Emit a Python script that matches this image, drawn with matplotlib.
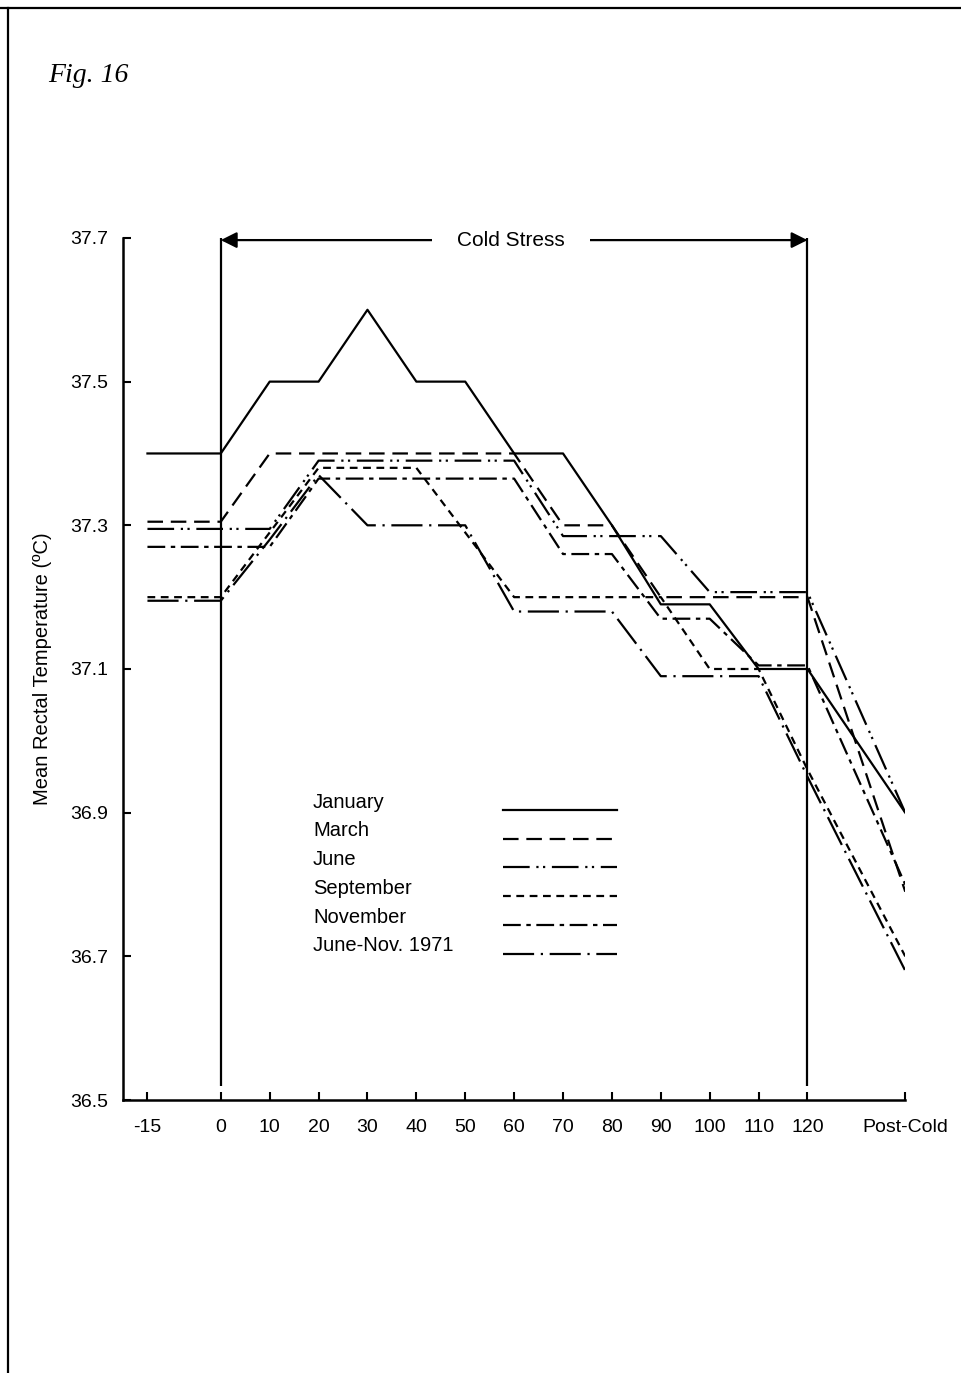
import matplotlib
matplotlib.use("Agg")
from matplotlib import pyplot as plt
from matplotlib.lines import Line2D

plt.rcParams['font.family'] = ['Liberation Sans', 'DejaVu Sans']

# minutes of exposure; 140 stands for the post-cold reading
minutes = [-15, 0, 10, 20, 30, 40, 50, 60, 70, 80, 90, 100, 110, 120, 140]
minute_labels = ['-15', '0', '10', '20', '30', '40', '50', '60', '70', '80',
                 '90', '100', '110', '120', 'Post-Cold']

january = [37.40, 37.40, 37.50, 37.50, 37.60, 37.50, 37.50, 37.40, 37.40,
           37.30, 37.19, 37.19, 37.10, 37.10, 36.90]
march = [37.305, 37.305, 37.40, 37.40, 37.40, 37.40, 37.40, 37.40, 37.30,
         37.30, 37.20, 37.20, 37.20, 37.20, 36.79]
june = [37.295, 37.295, 37.295, 37.39, 37.39, 37.39, 37.39, 37.39, 37.285,
        37.285, 37.285, 37.207, 37.207, 37.207, 36.90]
september = [37.20, 37.20, 37.29, 37.38, 37.38, 37.38, 37.29, 37.20, 37.20,
             37.20, 37.20, 37.10, 37.10, 36.96, 36.70]
november = [37.27, 37.27, 37.27, 37.365, 37.365, 37.365, 37.365, 37.365,
            37.26, 37.26, 37.17, 37.17, 37.105, 37.105, 36.80]
june_nov_1971 = [37.195, 37.195, 37.28, 37.37, 37.30, 37.30, 37.30, 37.18,
                 37.18, 37.18, 37.09, 37.09, 37.09, 36.95, 36.68]

series = [january, march, june, september, november, june_nov_1971]
names = ['January', 'March', 'June', 'September', 'November', 'June-Nov. 1971']
styles = ['-',
          (0, (7, 3.5)),
          (0, (12, 3, 1, 2, 1, 3)),
          (0, (3.5, 2.5)),
          (0, (8, 2.5, 2, 2.5)),
          (0, (14, 3, 1, 3))]

cold_start, cold_end = 0, 120
y_ticks = [36.5, 36.7, 36.9, 37.1, 37.3, 37.5, 37.7]

fig = plt.figure(figsize=(9.61, 13.73), dpi=100)
ax = fig.add_axes([0.128, 0.1988, 0.814, 0.6279])

for values, style in zip(series, styles):
    ax.plot(minutes, values, color='black', lw=1.6, linestyle=style)

# cold stress period
ax.vlines([cold_start, cold_end], 36.52, 37.7, color='black', lw=1.6)
ax.annotate('', xy=(cold_start, 37.697), xytext=(cold_end, 37.697),
            arrowprops=dict(arrowstyle='<|-|>', color='black', lw=1.6,
                            mutation_scale=24, shrinkA=0, shrinkB=0),
            annotation_clip=False)
ax.text((cold_start + cold_end) / 2 - 0.7, 37.697, 'Cold Stress', fontsize=15,
        ha='center', va='center',
        bbox=dict(fc='white', ec='none', pad=18))

# legend drawn by hand: names on the left, line samples on the right
for i, (name, style) in enumerate(zip(names, styles)):
    y = 0.3457 - i * 0.0334
    ax.text(0.243, y, name, transform=ax.transAxes, fontsize=14.5, va='center')
    ax.plot([0.486, 0.632], [y - 0.009, y - 0.009], transform=ax.transAxes,
            color='black', lw=1.6, linestyle=style)

ax.set_xlim(-20, 140)
ax.set_ylim(36.5, 37.7)
ax.set_xticks(minutes)
ax.set_xticklabels(minute_labels)
ax.set_yticks(y_ticks)
ax.set_yticklabels([f'{v:.1f}' for v in y_ticks])
ax.tick_params(direction='in', length=6, width=1.5, labelsize=14)
ax.tick_params(axis='x', pad=14)
ax.tick_params(axis='y', pad=11)
ax.set_ylabel('Mean Rectal Temperature (ºC)', fontsize=14.5)
ax.yaxis.set_label_coords(-0.091, 0.5)

for side in ['top', 'right']:
    ax.spines[side].set_visible(False)
for side in ['left', 'bottom']:
    ax.spines[side].set_linewidth(1.8)

# page frame and figure number
fig.add_artist(Line2D([0, 1], [0.994, 0.994], transform=fig.transFigure,
                      color='black', lw=1.6))
fig.add_artist(Line2D([0.0083, 0.0083], [0, 0.994], transform=fig.transFigure,
                      color='black', lw=1.6))
fig.text(0.05, 1 - 75 / 1373, 'Fig. 16', family='Liberation Serif',
         style='italic', fontsize=20, va='center')

fig.savefig('out.png', dpi=100)
